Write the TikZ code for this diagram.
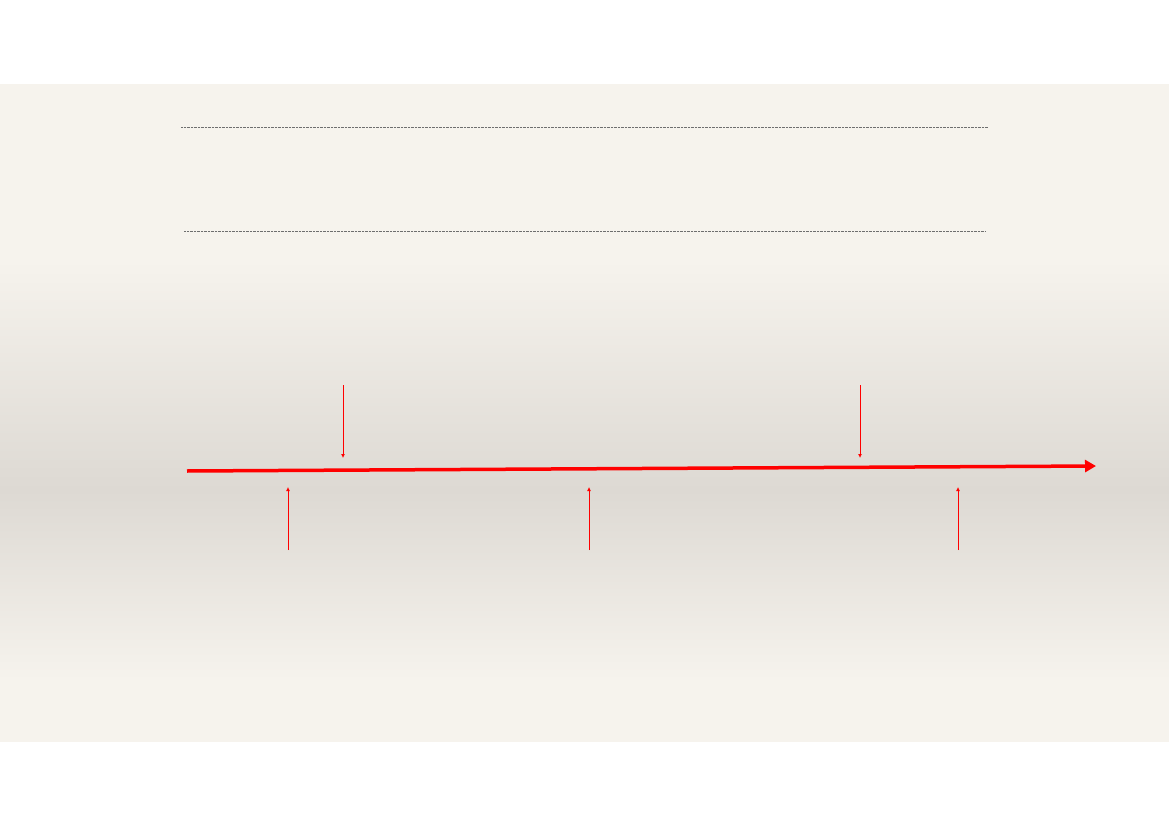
\documentclass[tikz,border=0pt]{standalone}
\usetikzlibrary{arrows.meta}
\definecolor{paper}{RGB}{246,243,237}
\definecolor{papermid}{RGB}{221,217,211}
\definecolor{rulegray}{RGB}{110,110,110}
\begin{document}
\begin{tikzpicture}[x=1pt,y=-1pt,
  guide/.style={draw=rulegray,line width=0.6pt,dash pattern=on 0.8pt off 0.6pt},
  timeline/.style={draw=red,line width=3.5pt,-{Triangle[length=11pt,width=12pt]}},
  marker/.style={draw=red,line width=1pt,-{Latex[length=4pt,width=4pt]}}]
\useasboundingbox (0,0) rectangle (1169,826);
\fill[white] (0,0) rectangle (1169,826);
\fill[paper] (0,84) rectangle (1169,742);
\shade[top color=paper,bottom color=papermid] (0,260) rectangle (1169,490);
\shade[top color=papermid,bottom color=paper] (0,490) rectangle (1169,680);
% guide lines
\coordinate (g1a) at (181,127); \coordinate (g1b) at (988,127);
\coordinate (g2a) at (184,231); \coordinate (g2b) at (986,231);
\draw[guide] (g1a) -- (g1b);
\draw[guide] (g2a) -- (g2b);
% timeline
\coordinate (ts) at (187,471); \coordinate (te) at (1096,466);
\draw[timeline] (ts) -- (te);
% down markers
\coordinate (d1s) at (343,385); \coordinate (d1e) at (343,458);
\coordinate (d2s) at (860,385); \coordinate (d2e) at (860,458);
\draw[marker] (d1s) -- (d1e);
\draw[marker] (d2s) -- (d2e);
% up markers
\coordinate (u1s) at (288,550); \coordinate (u1e) at (288,487);
\coordinate (u2s) at (589,550); \coordinate (u2e) at (589,487);
\coordinate (u3s) at (958,550); \coordinate (u3e) at (958,487);
\draw[marker] (u1s) -- (u1e);
\draw[marker] (u2s) -- (u2e);
\draw[marker] (u3s) -- (u3e);
\end{tikzpicture}
\end{document}
